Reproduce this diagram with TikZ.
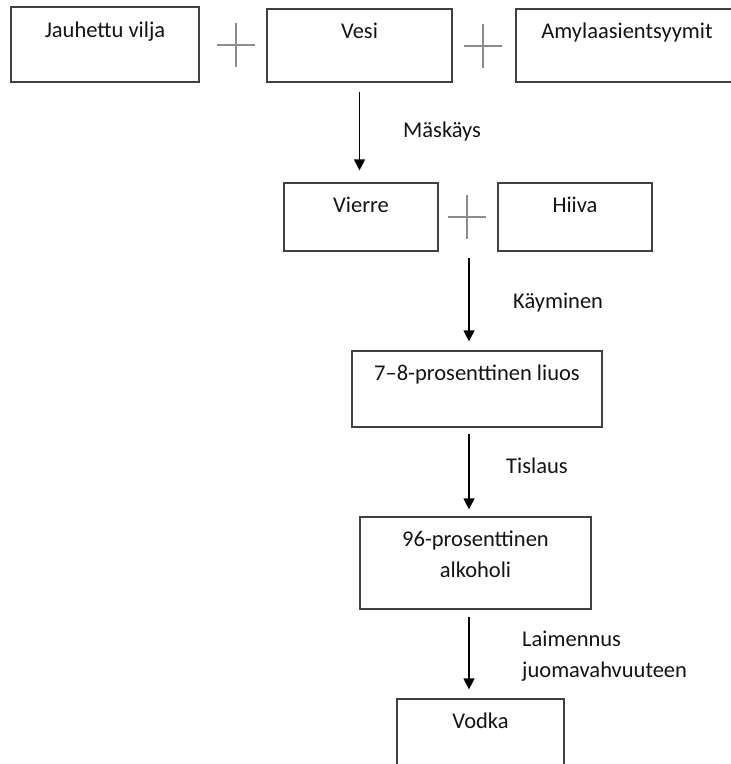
\documentclass[tikz,border=0pt]{standalone}
\usepackage{fontspec}
\setmainfont{Carlito}
\usetikzlibrary{arrows.meta}
\definecolor{boxline}{HTML}{404040}
\definecolor{plusgray}{HTML}{8C8C8C}
\definecolor{txtcol}{HTML}{141414}
\begin{document}
\begin{tikzpicture}[x=1pt,y=-1pt,
  box/.style={draw=boxline,line width=1.2pt,rectangle,inner sep=0pt,fill=white},
  txt/.style={anchor=base,inner sep=0pt,text=txtcol,font=\fontsize{22.5}{31}\selectfont,align=center},
  lbl/.style={anchor=base west,inner sep=0pt,text=txtcol,font=\fontsize{22.5}{31}\selectfont,align=left},
  plusmark/.style={draw=plusgray,line width=2pt},
  arr/.style={draw=black,line width=1.2pt,-{Triangle[length=11pt,width=11pt]}}]
\clip (0,0) rectangle (731,764);
\fill[white] (0,0) rectangle (731,764);
% top row
\node[box,minimum width=188pt,minimum height=75pt] (b1) at (105,44.5) {};
\node[txt] (t1) at ([yshift=-31pt]b1.north) {Jauhettu vilja};
\node[box,minimum width=185pt,minimum height=73pt] (vesi) at (359.5,45.5) {};
\node[txt] (t2) at ([yshift=-30pt]vesi.north) {Vesi};
\node[box,minimum width=222pt,minimum height=73pt] (amyl) at (627,45.5) {};
\node[txt] (t3) at ([yshift=-30pt]amyl.north) {Amylaasientsyymit};
\coordinate (p1) at (236,45);
\draw[plusmark] ([xshift=-19pt]p1) -- ([xshift=19pt]p1) ([yshift=22pt]p1) -- ([yshift=-22pt]p1);
\coordinate (p2) at (483,46);
\draw[plusmark] ([xshift=-19pt]p2) -- ([xshift=19pt]p2) ([yshift=22pt]p2) -- ([yshift=-22pt]p2);
% second row
\node[box,minimum width=154pt,minimum height=68pt] (vierre) at (361,217) {};
\node[txt] (t4) at ([yshift=-30pt]vierre.north) {Vierre};
\node[box,minimum width=154pt,minimum height=68pt] (hiiva) at (575,217) {};
\node[txt] (t5) at ([yshift=-30pt]hiiva.north) {Hiiva};
\coordinate (p3) at (467,217);
\draw[plusmark] ([xshift=-19pt]p3) -- ([xshift=19pt]p3) ([yshift=22pt]p3) -- ([yshift=-22pt]p3);
% lower boxes
\node[box,minimum width=250pt,minimum height=76pt] (l78) at (477,389) {};
\node[txt] (t6) at ([yshift=-30pt]l78.north) {7–8-prosenttinen liuos};
\node[box,minimum width=231pt,minimum height=92pt] (a96) at (475.5,563) {};
\node[txt] (t7) at ([yshift=-61pt]a96.north) {96-prosenttinen\\alkoholi};
\node[box,minimum width=167pt,minimum height=90pt] (vodka) at (480.5,744) {};
\node[txt] (t8) at ([yshift=-30pt]vodka.north) {Vodka};
% arrows
\draw[arr,shorten <=9pt,shorten >=12pt] (vesi.south) -- (vesi.south |- vierre.north);
\coordinate (a2) at (469,258);
\draw[arr,shorten >=9pt] (a2) -- (a2 |- l78.north);
\coordinate (a3) at (469,427);
\draw[arr,shorten <=6pt,shorten >=7pt] (a3 |- l78.south) -- (a3 |- a96.north);
\draw[arr,shorten <=7pt,shorten >=9pt] (a3 |- a96.south) -- (a3 |- vodka.north);
% labels
\node[lbl] (m1) at (403,137) {Mäskäys};
\node[lbl] (m2) at (513,308) {Käyminen};
\node[lbl] (m3) at (506,473) {Tislaus};
\node[lbl] (m4) at (522,677) {Laimennus\\juomavahvuuteen};
\end{tikzpicture}
\end{document}
